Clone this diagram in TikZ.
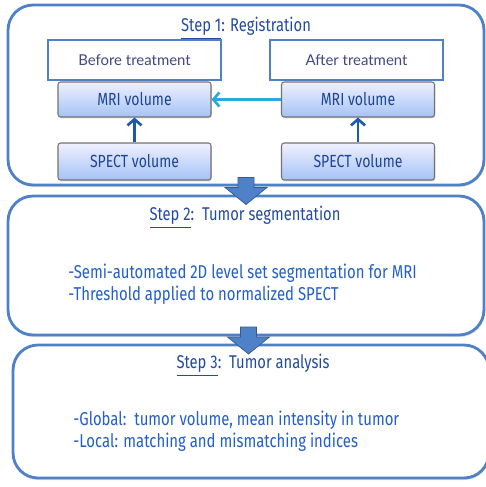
\documentclass[tikz,border=0pt]{standalone}
\usepackage{fontspec}
\setmainfont[FakeStretch=0.8]{Fira Sans}
\newfontfamily\widefont{Lato}
\usetikzlibrary{arrows.meta,shadows,calc}
\definecolor{framecol}{RGB}{79,129,200}
\definecolor{titlecol}{RGB}{35,75,160}
\definecolor{textcol}{RGB}{35,95,200}
\definecolor{volcol}{RGB}{30,70,150}
\definecolor{regcol}{RGB}{40,170,225}
\definecolor{upcol}{RGB}{25,90,170}
\begin{document}
\begin{tikzpicture}[x=0.02cm, y=-0.02cm,
  stepbox/.style={draw=framecol,line width=1.6pt,rounded corners=0.5cm,fill=white,minimum width=9.52cm,drop shadow={opacity=0.25,shadow xshift=0.3pt,shadow yshift=-1.2pt}},
  tagbox/.style={draw=framecol,line width=0.7pt,fill=white,minimum width=3.46cm,minimum height=0.8cm,text=black!50!blue!45!gray,font=\widefont\fontsize{8.5}{10}\selectfont},
  volbox/.style={draw=black!55,line width=0.6pt,rounded corners=1.5pt,top color=blue!6,bottom color={rgb,255:red,165;green,195;blue,245},minimum width=3.06cm,text=volcol,font=\fontsize{10}{12}\selectfont,drop shadow={opacity=0.3,shadow xshift=0.5pt,shadow yshift=-0.8pt}},
  bigarrow/.style={fill=framecol,draw=framecol!70!black,line width=0.4pt},
  steptitle/.style={text=titlecol,font=\fontsize{10.5}{12}\selectfont},
  bullet/.style={text=textcol,font=\fontsize{10.6}{12.5}\selectfont,anchor=west,align=left,inner sep=0pt},
  link/.style={line width=1.5pt,-{Straight Barb[length=3.5pt,width=8pt,line width=1.5pt]}}]
\useasboundingbox (0,0) rectangle (486,487);

\node[stepbox,minimum height=3.6cm] (box1) at (246,95) {};
\node[stepbox,minimum height=2.78cm] (box2) at (246,265.5) {};
\node[stepbox,minimum height=2.66cm] (box3) at (251,411.5) {};

\node[steptitle] (title1) at (246,28) {\underline{Step 1}: Registration};
\node[tagbox] (before) at (134.5,60) {Before treatment};
\node[tagbox] (after) at (356.5,60) {After treatment};
\node[volbox,minimum height=0.7cm] (mri1) at (134.5,99.5) {MRI volume};
\node[volbox,minimum height=0.7cm] (mri2) at (358,99.5) {MRI volume};
\node[volbox,minimum height=0.74cm] (spect1) at (134.5,161.5) {SPECT volume};
\node[volbox,minimum height=0.74cm] (spect2) at (358,161.5) {SPECT volume};
\draw[link,upcol] (spect1) -- (mri1);
\draw[link,upcol] (spect2) -- (mri2);
\draw[link,regcol,line width=1.3pt] (mri2) -- (mri1);

\node[steptitle] (title2) at (245,217) {\underline{Step 2}:\ \ Tumor segmentation};
\node[bullet] (seg) at (68,284) {-Semi-automated 2D level set segmentation for MRI\\-Threshold applied to normalized SPECT};

\node[steptitle] (title3) at (253,365) {\underline{Step 3}:\ \ Tumor analysis};
\node[bullet] (ana) at (73,431) {-Global:\ \ tumor volume, mean intensity in tumor\\-Local: matching and mismatching indices};

\coordinate (arr1) at ($(box1.south)!0.5!(box2.north)$);
\coordinate (arr2) at ($(box2.south)!0.5!(box3.north)$);
\foreach \a in {arr1,arr2}
  \filldraw[bigarrow,shift={(\a)}] (-8,-13) -- (8,-13) -- (8,-3) -- (21,-3) -- (0,14) -- (-21,-3) -- (-8,-3) -- cycle;
\end{tikzpicture}
\end{document}
